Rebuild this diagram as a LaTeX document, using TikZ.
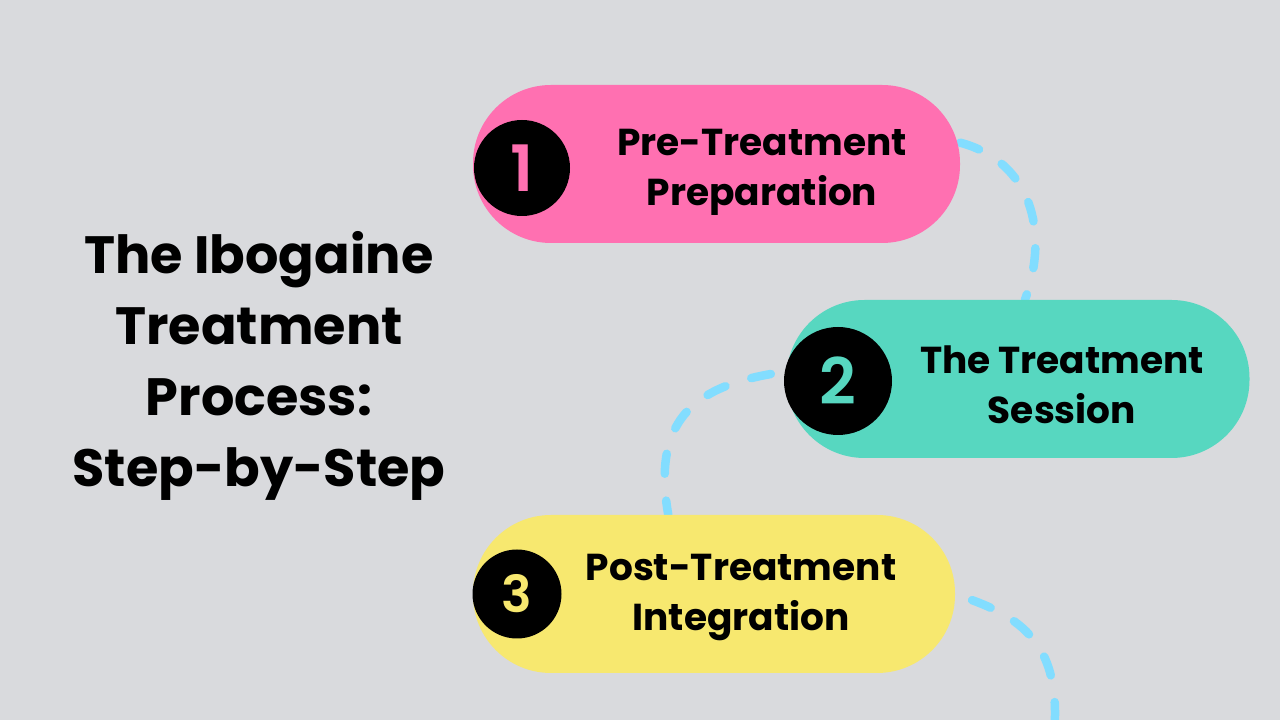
\documentclass[tikz,border=0pt]{standalone}
\usepackage{fontspec}
\setmainfont{Poppins}
\newfontfamily\numfont{Poppins SemiBold}
\usetikzlibrary{calc}

\definecolor{bggray}{HTML}{D9DADD}
\definecolor{pinkstep}{HTML}{FF70B1}
\definecolor{tealstep}{HTML}{57D7C0}
\definecolor{yellowstep}{HTML}{F7E86F}
\definecolor{dashblue}{HTML}{82DDFF}

\pgfdeclarelayer{back}
\pgfdeclarelayer{links}
\pgfsetlayers{back,links,main}

\tikzset{
  pill/.style={rounded corners=78pt, minimum height=158pt, inner sep=0pt},
  badge/.style={circle, fill=black, inner sep=0pt},
  steplabel/.style={font=\fontsize{37.5}{50}\selectfont\bfseries, align=center, inner sep=0pt},
  link/.style={draw=dashblue, line width=8.5pt, line cap=round, dash pattern=on 20pt off 27pt},
}

\begin{document}
\begin{tikzpicture}[x=1pt,y=1pt]
    \begin{pgfonlayer}{back}
      \fill[bggray] (0,0) rectangle (1280,720);
    \end{pgfonlayer}
    \useasboundingbox (0,0) rectangle (1280,720);

    % title
    \node[font=\fontsize{52.5}{71}\selectfont\bfseries, align=center, inner sep=0pt]
      (title) at (259,354) {The Ibogaine\\Treatment\\Process:\\Step-by-Step};

    % step 1
    \node[pill, fill=pinkstep, minimum width=487pt] (p1) at (716.5,556) {};
    \node[badge, minimum size=96pt, text=pinkstep, font=\numfont\fontsize{64}{64}\selectfont]
      (n1) at (522,552) {1};
    \node[steplabel] (t1) at (762,548) {Pre-Treatment\\Preparation};

    % step 2
    \node[pill, fill=tealstep, minimum width=463pt] (p2) at (1018,341) {};
    \node[badge, minimum size=108pt, text=tealstep, font=\numfont\fontsize{64}{64}\selectfont]
      (n2) at (838,339) {2};
    \node[steplabel] (t2) at (1062,335) {The Treatment\\Session};

    % step 3
    \node[pill, fill=yellowstep, minimum width=482pt] (p3) at (714,126) {};
    \node[badge, minimum size=89pt, text=yellowstep, font=\numfont\fontsize{51}{51}\selectfont]
      (n3) at (517,126) {3};
    \node[steplabel] (t3) at (741,123) {Post-Treatment\\Integration};

    \coordinate (tail) at (1054,-15);

    % dashed path behind the steps
    \begin{pgfonlayer}{links}
      \draw[link] (p1.5) to[out=-15,in=70,looseness=1.1] (p2.85);
      \draw[link, shorten <=14pt] (n2.170) to[out=190,in=100,looseness=1.3] (p3.120);
      \draw[link, shorten <=18pt] (p3.east) to[out=-20,in=85,looseness=1.2] (tail);
    \end{pgfonlayer}
  \end{tikzpicture}
\end{document}
